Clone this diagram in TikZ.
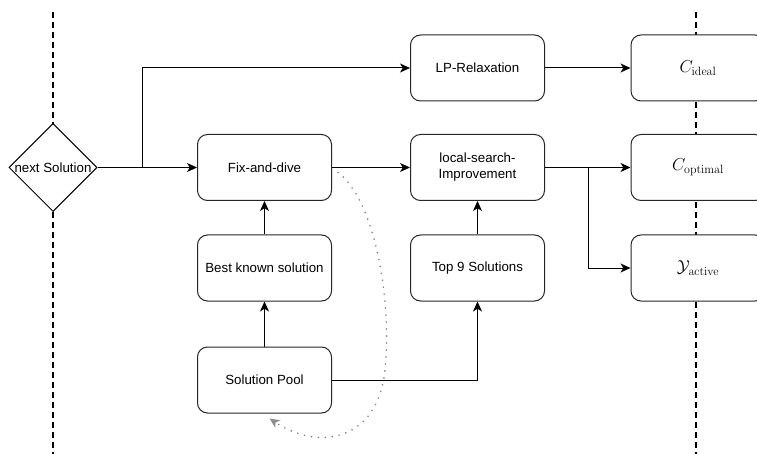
\documentclass[tikz,border=0pt]{standalone}
\usepackage[no-math]{fontspec}
\setmainfont{Liberation Sans}
\usetikzlibrary{shapes.geometric,arrows.meta,calc}
\begin{document}
\begin{tikzpicture}[x=1pt,y=-1pt,
  box/.style={draw=black!85,fill=white,rounded corners=10pt,line width=1pt,
    minimum width=134pt,minimum height=66pt,align=center,inner sep=2pt,
    font=\fontsize{13.3}{16}\selectfont},
  mbox/.style={box,font=\fontsize{16.5}{19}\selectfont},
  decision/.style={diamond,draw=black,fill=white,line width=1pt,inner sep=0pt,
    minimum width=88pt,minimum height=88pt,aspect=1,
    font=\fontsize{13.3}{16}\selectfont},
  flow/.style={line width=1pt,-{Stealth[length=10pt,width=9pt,inset=2.8pt]}},
  link/.style={line width=1pt},
  divider/.style={line width=2pt,dash pattern=on 6pt off 4pt},
  feedback/.style={draw=black!50,line width=1.8pt,line cap=round,
    dash pattern=on 0pt off 7pt,
    -{Stealth[length=10pt,width=9pt,inset=2.8pt,color=black!45]}}
]
\useasboundingbox (0,0) rectangle (757,454);

% phase dividers
\draw[divider] (53,12) -- (53,454);
\draw[divider] (696,12) -- (696,454);

% nodes
\node[decision] (next) at (53,167.5) {next Solution};
\node[box] (lp)   at (477.5,68)  {LP-Relaxation};
\node[box] (fix)  at (264.5,167.5) {Fix-and-dive};
\node[box] (ls)   at (477.5,167.5) {local-search-\\Improvement};
\node[box] (best) at (264.5,268) {Best known solution};
\node[box] (top)  at (477.5,268) {Top 9 Solutions};
\node[box] (pool) at (264.5,380) {Solution Pool};
\node[mbox] (cid)  at (698,68)    {$C_{\mathrm{ideal}}$};
\node[mbox] (copt) at (698,167.5) {$C_{\mathrm{optimal}}$};
\node[mbox] (yact) at (698,268)   {$\mathcal{Y}_{\mathrm{active}}$};

% branch points
\coordinate (split1) at (142,167.5);
\coordinate (split2) at (588,167.5);

% connectors
\draw[link] (next.east) -- (split1);
\draw[flow] (split1) -- (fix.west);
\draw[flow] (split1) |- (lp.west);
\draw[flow] (fix.east) -- (ls.west);
\draw[flow] (lp.east) -- (cid.west);
\draw[link] (ls.east) -- (split2);
\draw[flow] (split2) -- (copt.west);
\draw[flow] (split2) |- (yact.west);
\draw[flow] (best.north) -- (fix.south);
\draw[flow] (pool.north) -- (best.south);
\draw[flow] (top.north) -- (ls.south);
\draw[flow] (pool.east) -| (top.south);

% feedback into the pool
\coordinate (fbstart) at ([xshift=6pt,yshift=-5pt]fix.east);
\coordinate (fbend) at ([xshift=5pt,yshift=-5pt]pool.south);
\draw[feedback] (fbstart) .. controls (375,200) and (392,300) .. (385,370)
  .. controls (378,440) and (320,452) .. (fbend);
\end{tikzpicture}
\end{document}
